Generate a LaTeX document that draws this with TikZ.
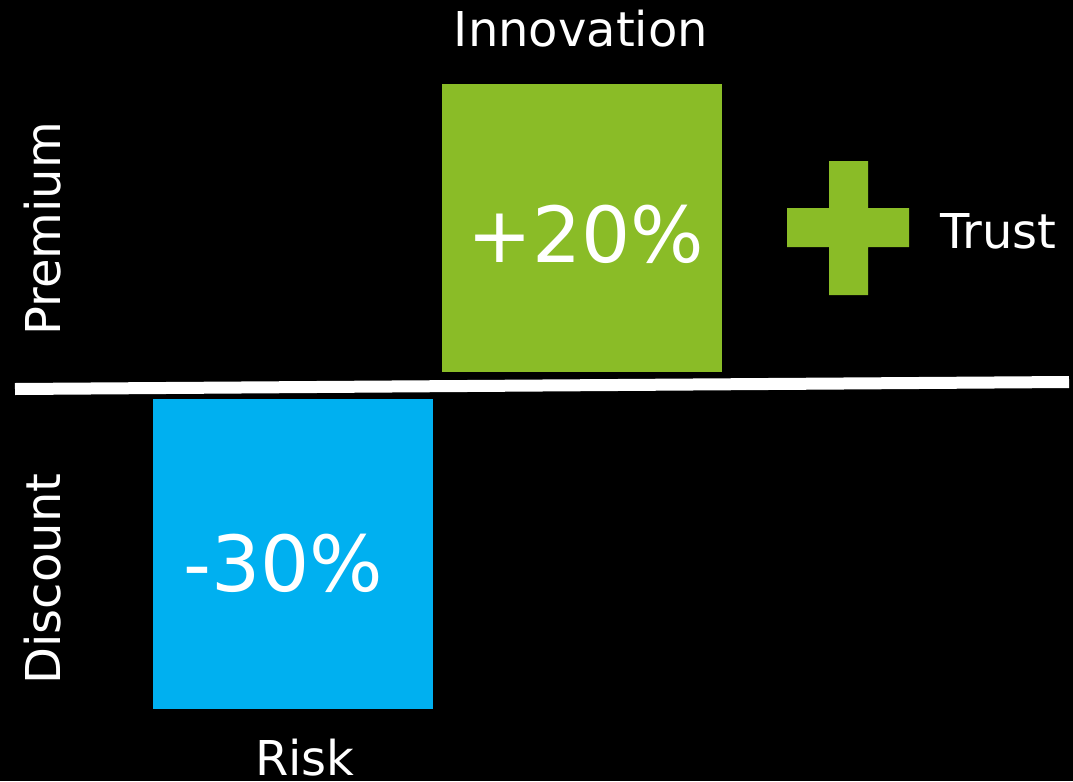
\documentclass[tikz,border=0pt]{standalone}
\usepackage{fontspec}
\setmainfont{DejaVu Sans}
\usetikzlibrary{positioning}
\definecolor{premgreen}{RGB}{138,188,39}
\definecolor{discblue}{RGB}{0,176,240}
\tikzstyle{box} = [inner sep=0pt, outer sep=0pt, anchor=north west]
\tikzstyle{lbl} = [text=white, inner sep=0pt, anchor=base, font=\fontsize{36}{40}\selectfont]
\tikzstyle{big} = [text=white, inner sep=0pt, anchor=base, font=\fontsize{58}{62}\selectfont]

\begin{document}
\begin{tikzpicture}[x=0.75pt,y=-0.75pt]

\fill[black] (0,0) rectangle (1073,781);
\useasboundingbox (0,0) rectangle (1073,781);

\node[box, fill=premgreen, minimum width=210pt, minimum height=216pt] (up) at (442,84) {};
\node[box, fill=discblue, minimum width=210pt, minimum height=232.5pt] (down) at (153,399) {};

\node[big] (plus) at (586,262) {+20\%};
\node[big] (minus) at (283,591) {-30\%};

\node[lbl] (innov) at (581,47) {Innovation};
\node[lbl, anchor=base west] (trust) at (940,248) {Trust};
\node[lbl] (risk) at (305,775) {Risk};
\node[lbl, rotate=90] (prem) at (60,229) {Premium};
\node[lbl, rotate=90] (disc) at (60,579) {Discount};

% divider
\coordinate (l) at (15,389);
\coordinate (r) at (1069,382);
\draw[white, line width=9pt] (l) -- (r);

% cross
\fill[premgreen] (829,161) -- (868,161) -- (868,208) -- (909,208) -- (909,247)
  -- (868,247) -- (868,295) -- (829,295) -- (829,247) -- (787,247)
  -- (787,208) -- (829,208) -- cycle;

\end{tikzpicture}
\end{document}
